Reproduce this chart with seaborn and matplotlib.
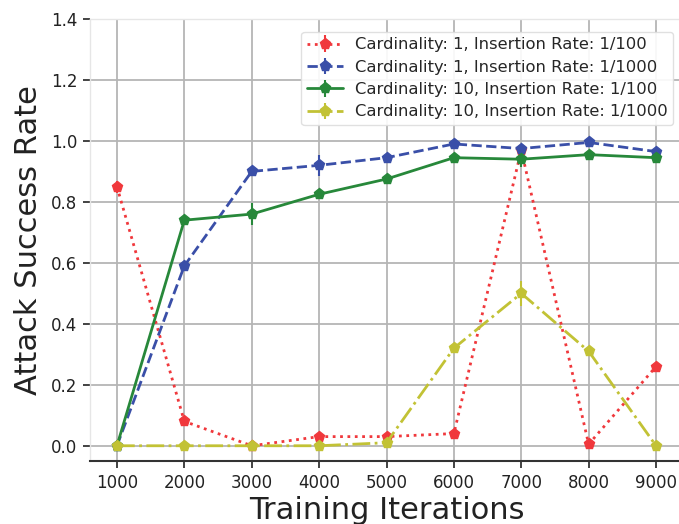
import numpy as np
import pandas as pd
import matplotlib
matplotlib.use("Agg")
import matplotlib.pyplot as plt
import seaborn as sns

# Training iterations on the x axis
iterations = [1000, 2000, 3000, 4000, 5000, 6000, 7000, 8000, 9000]

# Attack success rate per configuration (mean and spread)
c1_r100 = [0.85, 0.08, 0.00, 0.03, 0.03, 0.04, 0.97, 0.005, 0.26]
c1_r100_err = [0.02, 0.01, 0.005, 0.01, 0.005, 0.005, 0.02, 0.005, 0.005]
c1_r1000 = [0.00, 0.59, 0.90, 0.92, 0.945, 0.99, 0.975, 0.995, 0.965]
c1_r1000_err = [0.005, 0.01, 0.01, 0.035, 0.01, 0.01, 0.01, 0.01, 0.01]
c10_r100 = [0.00, 0.74, 0.76, 0.825, 0.875, 0.945, 0.94, 0.955, 0.945]
c10_r100_err = [0.005, 0.01, 0.035, 0.01, 0.01, 0.01, 0.025, 0.01, 0.01]
c10_r1000 = [0.00, 0.00, 0.00, 0.00, 0.01, 0.32, 0.50, 0.31, 0.00]
c10_r1000_err = [0.005, 0.005, 0.005, 0.005, 0.005, 0.01, 0.04, 0.01, 0.005]

labels = [
    "Cardinality: 1, Insertion Rate: 1/100",
    "Cardinality: 1, Insertion Rate: 1/1000",
    "Cardinality: 10, Insertion Rate: 1/100",
    "Cardinality: 10, Insertion Rate: 1/1000",
]
colors = ["#f0383c", "#3a4fa8", "#27883a", "#c2c235"]
styles = [":", "--", "-", "-."]

frames = []
for lab, vals, errs in zip(
    labels,
    [c1_r100, c1_r1000, c10_r100, c10_r1000],
    [c1_r100_err, c1_r1000_err, c10_r100_err, c10_r1000_err],
):
    frames.append(pd.DataFrame({"iter": iterations, "rate": vals, "err": errs, "config": lab}))
df = pd.concat(frames, ignore_index=True)

sns.set_theme(style="whitegrid")
plt.rcParams["font.family"] = ["DejaVu Sans"]

fig = plt.figure(figsize=(6.79, 5.24), dpi=100)
ax = fig.add_axes([90 / 679, 1 - 461 / 524, (683 - 90) / 679, (461 - 19) / 524])

for lab, col, ls in zip(labels, colors, styles):
    sub = df[df["config"] == lab]
    ax.errorbar(sub["iter"], sub["rate"], yerr=sub["err"], color=col, linestyle=ls,
                linewidth=2, marker="p", markersize=8, elinewidth=1.5, capsize=0,
                label=lab)

ax.set_xlim(600, 9400)
ax.set_ylim(-0.05, 1.4)
ax.set_xticks(iterations)
ax.set_yticks(np.arange(0, 1.41, 0.2))
ax.set_yticklabels([f"{v:.1f}" for v in np.arange(0, 1.41, 0.2)])

ax.grid(True, color="#b5b5b5", linewidth=1.3)
for side in ["top", "right", "left"]:
    ax.spines[side].set_color("#e6e6e6")
    ax.spines[side].set_linewidth(1.0)
ax.spines["bottom"].set_color("#333333")
ax.spines["bottom"].set_linewidth(1.5)

ax.tick_params(axis="both", which="major", labelsize=12, colors="#222222",
               length=5, width=1.2, direction="out", left=True, bottom=True, pad=4)

ax.set_xlabel("Training Iterations", fontsize=22, color="#222222", labelpad=3)
ax.set_ylabel("Attack Success Rate", fontsize=22, color="#222222", labelpad=6)

leg = ax.legend(loc="upper right", fontsize=11.8, frameon=True, framealpha=0.9,
                borderpad=0.35, labelspacing=0.45, handlelength=2.2, handletextpad=0.7,
                bbox_to_anchor=(0.997, 0.99))
leg.get_frame().set_edgecolor("#dddddd")

fig.savefig("out.png", dpi=100)
